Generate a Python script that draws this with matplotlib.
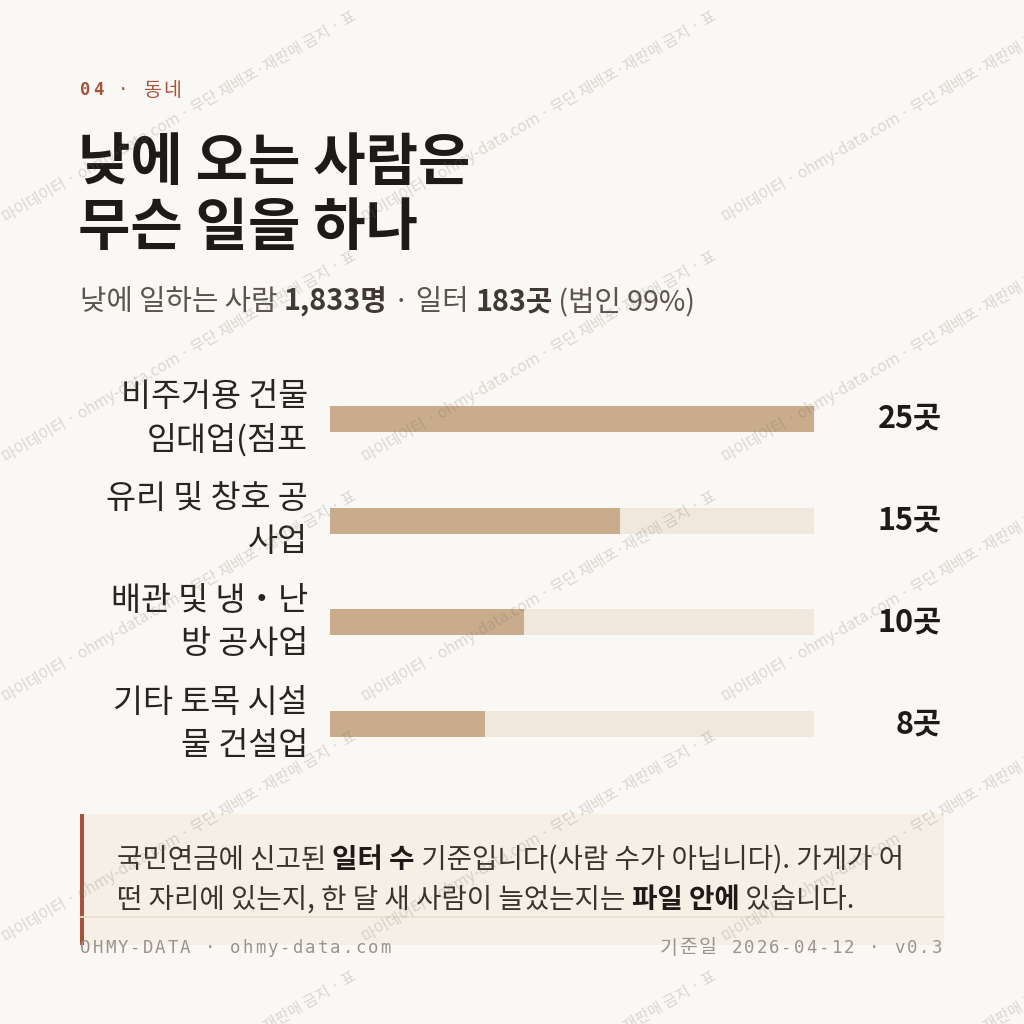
import matplotlib
matplotlib.use("Agg")
import matplotlib.pyplot as plt
from matplotlib.patches import Rectangle
from matplotlib.transforms import Bbox, TransformedBbox

plt.rcParams['font.family'] = ['Noto Sans CJK KR', 'DejaVu Sans']

# data
categories = ["비주거용 건물\n임대업(점포", "유리 및 창호 공\n사업", "배관 및 냉・난\n방 공사업", "기타 토목 시설\n물 건설업"]
counts = [25, 15, 10, 8]
unit = "곳"

title_lines = ["낮에 오는 사람은", "무슨 일을 하나"]
subtitle = [("낮에 일하는 사람 ", "normal"), ("1,833명", "bold"), (" · 일터 ", "normal"),
            ("183곳", "bold"), (" (법인 99%)", "normal")]
note_lines = [
    [("국민연금에 신고된 ", "normal"), ("일터 수", "bold"), (" 기준입니다(사람 수가 아닙니다). 가게가 어", "normal")],
    [("떤 자리에 있는지, 한 달 새 사람이 늘었는지는 ", "normal"), ("파일 안에", "bold"), (" 있습니다.", "normal")],
]
kicker = "04 · 동네"
footer_left = "OHMY-DATA · ohmy-data.com"
footer_right = "기준일 2026-04-12 · v0.3"
watermark = "마이데이터 · ohmy-data.com · 무단 재배포·재판매 금지 · 표"

# colours
BG = "#faf8f4"
INK = "#1e1a17"
SUB = "#5b534c"
ACCENT = "#a5533b"
FILL = "#c8ac8b"
TRACK = "#f0e8dc"
NOTE_BG = "#f5efe6"
RULE = "#e8dfd2"
FOOT = "#9c938a"
MONO = ['DejaVu Sans Mono', 'Noto Sans CJK KR']

fig = plt.figure(figsize=(10.24, 10.24), dpi=100, facecolor=BG)
bg = fig.add_axes([0, 0, 1, 1])
bg.set_xlim(0, 1024)
bg.set_ylim(1024, 0)
bg.axis("off")
bg.set_facecolor(BG)
r = fig.canvas.get_renderer()


def text_w(s, **kw):
    t = bg.text(0, 0, "|" + s + "|", **kw)
    w1 = t.get_window_extent(r).width
    t.remove()
    t = bg.text(0, 0, "||", **kw)
    w2 = t.get_window_extent(r).width
    t.remove()
    return w1 - w2


def rich(x, y, parts, size, color, bold_color=None):
    for s, wt in parts:
        c = bold_color if (wt == "bold" and bold_color) else color
        bg.text(x, y, s, fontsize=size, fontweight=wt, color=c, va="center", ha="left")
        x += text_w(s, fontsize=size, fontweight=wt)


def spaced(x, y, s, size, color, gap, weights=None, align="left"):
    # monospace text with css-like letter spacing
    ws = weights or ["normal"] * len(s)
    sizes = [size * 1.12 if ord(c) > 0x1100 and c != "·" else size for c in s]
    widths = [text_w(c, fontsize=sz, family=MONO, fontweight=w) + gap for c, w, sz in zip(s, ws, sizes)]
    if align == "right":
        x -= sum(widths) - gap
    for c, w, sz, wd in zip(s, ws, sizes, widths):
        bg.text(x, y, c, fontsize=sz, family=MONO, fontweight=w, color=color, va="center", ha="left")
        x += wd


# kicker
spaced(80, 90, kicker, 12.5, ACCENT, 2.2, weights=["bold", "bold"] + ["normal"] * 5)

# title
bg.text(78, 163, title_lines[0], fontsize=41, fontweight="bold", color=INK, va="center")
bg.text(78, 228, title_lines[1], fontsize=41, fontweight="bold", color=INK, va="center")

# subtitle
rich(80, 302, subtitle, 20.7, SUB, bold_color="#3f3833")

# note box
bg.add_patch(Rectangle((80, 814), 864, 131, facecolor=NOTE_BG, edgecolor="none"))
bg.add_patch(Rectangle((80, 814), 4, 131, facecolor=ACCENT, edgecolor="none"))
rich(117, 860, note_lines[0], 19.9, "#3a332e", bold_color=INK)
rich(117, 900, note_lines[1], 19.9, "#3a332e", bold_color=INK)
bg.plot([80, 944], [917, 917], color=RULE, lw=1.2)

# footer
spaced(80, 948, footer_left, 12.5, FOOT, 2.0)
spaced(942, 948, footer_right, 12.5, FOOT, 2.0, align="right")

# bars
n = len(counts)
ax = fig.add_axes([330 / 1024, 1 - 775 / 1024, 484 / 1024, 407 / 1024])
ax.set_facecolor("none")
ypos = list(range(n))
vmax = max(counts)
ax.barh(ypos, [vmax] * n, height=0.256, color=TRACK)
ax.barh(ypos, counts, height=0.256, color=FILL)
ax.set_xlim(0, vmax)
ax.set_ylim(n - 0.5, -0.5)
ax.axis("off")

for i, (cat, v) in enumerate(zip(categories, counts)):
    l1, l2 = cat.split("\n")
    ax.annotate(l1, xy=(0, i), xycoords=("axes fraction", "data"), xytext=(-16, 15.5),
                textcoords="offset points", ha="right", va="center", fontsize=23.5, color="#2a2420")
    ax.annotate(l2, xy=(0, i), xycoords=("axes fraction", "data"), xytext=(-16, -15.5),
                textcoords="offset points", ha="right", va="center", fontsize=23.5, color="#2a2420")
    ax.annotate(f"{v}{unit}", xy=(1, i), xycoords=("axes fraction", "data"), xytext=(92, 0),
                textcoords="offset points", ha="right", va="center", fontsize=22,
                fontweight="bold", color=INK)

# watermark tiles, each clipped to its own tile
TW, TH = 360, 240
for j in range(0, 5):
    for k in range(0, 3):
        x0, y0 = TW * k, TH * j - 5
        t = fig.text((x0 + TW / 2) / 1024, 1 - (y0 + 122) / 1024, watermark, fontsize=11.2,
                     color="#786e64", alpha=0.24, rotation=30, ha="center", va="center",
                     rotation_mode="anchor", zorder=10)
        box = Bbox.from_extents(x0 / 1024, 1 - (y0 + TH) / 1024, (x0 + TW) / 1024, 1 - y0 / 1024)
        t.set_clip_box(TransformedBbox(box, fig.transFigure))
        t.set_clip_on(True)

fig.savefig("out.png", dpi=100, facecolor=BG)
